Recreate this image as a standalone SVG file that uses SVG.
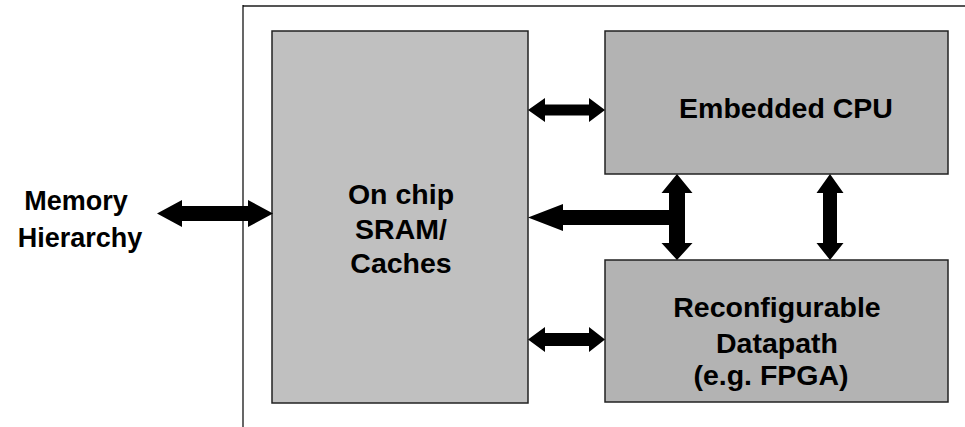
<svg xmlns="http://www.w3.org/2000/svg" width="965" height="427" viewBox="0 0 965 427">
<style>
.t{font-family:"Liberation Sans",Arial,sans-serif;font-weight:bold;fill:#000;text-anchor:middle}
.a{fill:#000}
</style>
<rect width="965" height="427" fill="#fff"/>
<g id="frame">
<line x1="243" y1="6" x2="965" y2="6" stroke="#555" stroke-width="2"/>
<line x1="243" y1="5" x2="243" y2="427" stroke="#000" stroke-width="1.2"/>
</g>
<g id="sram">
<rect x="272" y="31" width="256" height="372" fill="#c0c0c0" stroke="#222" stroke-width="1.5"/>
<text class="t" font-size="28.5" x="401" y="204">On chip</text>
<text class="t" font-size="28.5" x="401" y="239">SRAM/</text>
<text class="t" font-size="28.5" x="401" y="273">Caches</text>
</g>
<g id="cpu">
<rect x="605" y="31" width="343" height="143" fill="#b3b3b3" stroke="#222" stroke-width="1.5"/>
<text class="t" font-size="28.5" x="786" y="118">Embedded CPU</text>
</g>
<g id="fpga">
<rect x="605" y="260" width="343" height="142" fill="#b3b3b3" stroke="#222" stroke-width="1.5"/>
<text class="t" font-size="28.5" x="777" y="317">Reconfigurable</text>
<text class="t" font-size="28.5" x="777" y="353">Datapath</text>
<text class="t" font-size="28.5" x="771" y="385">(e.g. FPGA)</text>
</g>
<g id="memory">
<text class="t" font-size="27" x="76" y="210">Memory</text>
<text class="t" font-size="27" x="80" y="247">Hierarchy</text>
</g>
<g id="connectors">
<polygon class="a" points="157,213.5 182,200 182,206 248,206 248,200 273,213.5 248,227 248,221 182,221 182,227"/>
<polygon class="a" points="528,110 545,98 545,104.5 589,104.5 589,98 605,110 589,122 589,115.5 545,115.5 545,122"/>
<polygon class="a" points="528,339.5 545,327 545,333 589,333 589,327 605,339.5 589,352 589,346 545,346 545,352"/>
<polygon class="a" points="677,174 692.5,193 685,193 685,243 692.5,243 677,260 661.5,243 669,243 669,225 563,225 563,231 528,217.5 563,204 563,210 669,210 669,193 661.5,193"/>
<polygon class="a" points="830,174 843.5,193 837,193 837,243 843.5,243 830,260 816.5,243 823,243 823,193 816.5,193"/>
</g>
</svg>
